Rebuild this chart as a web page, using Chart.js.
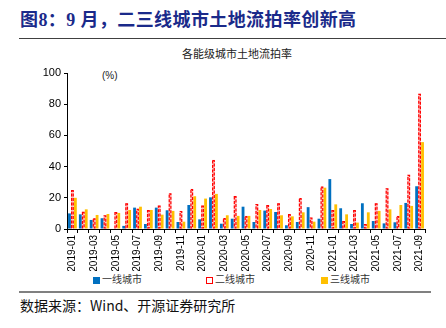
<!DOCTYPE html>
<html>
<head>
<meta charset="utf-8">
<script src="https://cdn.jsdelivr.net/npm/chart.js@4/dist/chart.umd.min.js"></script>
<style>
  body { margin: 0; background: #fff; width: 446px; height: 328px; overflow: hidden; position: relative; font-family: "Noto Sans CJK SC", sans-serif; }
  .abs { position: absolute; white-space: nowrap; }
  #title { left: 20px; top: 5px; font-size: 18px; letter-spacing: 0.4px; font-weight: bold; color: #1a2a8a; font-family: "Liberation Serif", "Noto Sans CJK SC", serif; }
  #rule1 { left: 19px; top: 38px; width: 427px; height: 0; border-top: 1.5px solid #404040; }
  #sub { left: 182px; top: 45px; font-size: 11px; color: #222; }
  #unit { left: 102px; top: 70px; font-size: 10px; color: #222; font-family: "Liberation Sans", sans-serif; }
  #chartBox { left: 0; top: 60px; width: 446px; height: 211px; }
  .leg { top: 271px; font-size: 10px; color: #333; }
  .leg i { display: inline-block; width: 7px; height: 7px; margin-right: 2px; vertical-align: -0.5px; box-sizing: border-box; }
  #rule2 { left: 19px; top: 291px; width: 412px; height: 0; border-top: 2px solid #808080; }
  #src { left: 20px; top: 295px; font-size: 14px; color: #111; }
</style>
</head>
<body>
<div class="abs" id="title">图8：9 月，二三线城市土地流拍率创新高</div>
<div class="abs" id="rule1"></div>
<div class="abs" id="sub">各能级城市土地流拍率</div>
<div class="abs" id="unit">(%)</div>
<div class="abs" id="chartBox"><canvas id="landChart"></canvas></div>
<div class="abs leg" style="left:93px"><i style="background:#0070C0"></i>一线城市</div>
<div class="abs leg" style="left:206px"><i style="background:#fff;border:1.5px solid #FF0000"></i>二线城市</div>
<div class="abs leg" style="left:321px"><i style="background:#FFC000"></i>三线城市</div>
<div class="abs" id="rule2"></div>
<div class="abs" id="src">数据来源：Wind、开源证券研究所</div>

<script>
const months = [
  '2019-01', '2019-02', '2019-03', '2019-04', '2019-05', '2019-06', '2019-07', '2019-08', '2019-09', '2019-10', '2019-11', '2019-12',
  '2020-01', '2020-02', '2020-03', '2020-04', '2020-05', '2020-06', '2020-07', '2020-08', '2020-09', '2020-10', '2020-11', '2020-12',
  '2021-01', '2021-02', '2021-03', '2021-04', '2021-05', '2021-06', '2021-07', '2021-08', '2021-09'
];
const shownLabels = [
  '2019-01', '2019-03', '2019-05', '2019-07', '2019-09', '2019-11', '2020-01', '2020-03', '2020-05',
  '2020-07', '2020-09', '2020-11', '2021-01', '2021-03', '2021-05', '2021-07', '2021-09'
];
const yTicks = [0, 10, 20, 30, 40, 50, 60, 70, 80, 90, 100];

const tier1 = [10, 9.4, 5.8, 6.9, 0, 2, 13.7, 3.2, 13.7, 12, 4.5, 15.4, 6.2, 20.3, 3.4, 6.6, 14.3, 4.5, 11.8, 10.9, 2.4, 4.5, 14, 6.6, 32, 13.3, 3.2, 16.5, 5.1, 3.6, 4.3, 16.7, 27.4];
const tier2 = [25, 11, 6.9, 8.8, 10.9, 16.5, 13, 12.2, 15, 22.9, 11.6, 25.7, 15, 44.3, 7, 21.2, 8.4, 16, 15.4, 16.5, 9.6, 19.9, 7.3, 27.2, 12.2, 5.1, 12.2, 3.2, 16.5, 26.1, 8.4, 34.7, 86.7];
const tier3 = [20, 12.6, 9, 9.6, 10.3, 12.2, 14.3, 12.2, 9.2, 11.6, 4.7, 21, 19.5, 22.5, 8.8, 8.4, 8.4, 12.2, 12.8, 8.8, 8.1, 10.7, 4.7, 26.5, 15.8, 9.4, 4.1, 10.7, 11.6, 12.6, 15.4, 14.8, 55.7];

// dashed red outline for the 二线城市 bars (bars have no borderDash of their own)
const dashedOutline = {
  id: 'dashedOutline',
  afterDatasetsDraw(chart) {
    const meta = chart.getDatasetMeta(1);
    const ctx = chart.ctx;
    ctx.save();
    ctx.strokeStyle = '#FF0000';
    ctx.lineWidth = 1.2;
    ctx.setLineDash([3, 1.5]);
    meta.data.forEach(bar => {
      const { x, y, base, width } = bar.getProps(['x', 'y', 'base', 'width'], true);
      if (base - y < 1) return;
      ctx.strokeRect(x - width / 2 + 0.6, y + 0.6, width - 1.2, base - y - 1.2);
    });
    ctx.restore();
  }
};

new Chart(document.getElementById('landChart'), {
  type: 'bar',
  data: {
    labels: months,
    datasets: [
      { label: '一线城市', data: tier1, backgroundColor: '#0070C0', borderWidth: 0 },
      { label: '二线城市', data: tier2, backgroundColor: 'rgba(255,150,150,0.6)', borderWidth: 0 },
      { label: '三线城市', data: tier3, backgroundColor: '#FFC000', borderWidth: 0 }
    ]
  },
  options: {
    responsive: true,
    maintainAspectRatio: false,
    animation: false,
    categoryPercentage: 0.82,
    barPercentage: 0.95,
    layout: { padding: { top: 13, right: 21, left: 0, bottom: 0 } },
    plugins: { legend: { display: false }, tooltip: { enabled: false } },
    scales: {
      x: {
        grid: { display: true, drawOnChartArea: false, offset: true, tickLength: 4, color: '#000' },
        border: { color: '#000', width: 1 },
        ticks: {
          autoSkip: false,
          minRotation: 90,
          maxRotation: 90,
          padding: 2,
          color: '#000',
          font: { family: 'Liberation Sans', size: 10 },
          callback: function (value) {
            const lab = this.getLabelForValue(value);
            return shownLabels.includes(lab) ? lab : '';
          }
        },
        afterFit(scale) { scale.height = 42; }
      },
      y: {
        min: 0,
        max: 100,
        grid: { display: true, drawOnChartArea: false, tickLength: 3, color: '#000' },
        border: { color: '#000', width: 1 },
        ticks: {
          stepSize: 10,
          padding: 3,
          color: '#000',
          font: { family: 'Liberation Sans', size: 11 },
          callback: v => yTicks.includes(v) ? v : ''
        },
        afterFit(scale) { scale.width = 67; }
      }
    }
  },
  plugins: [dashedOutline]
});
</script>
</body>
</html>
